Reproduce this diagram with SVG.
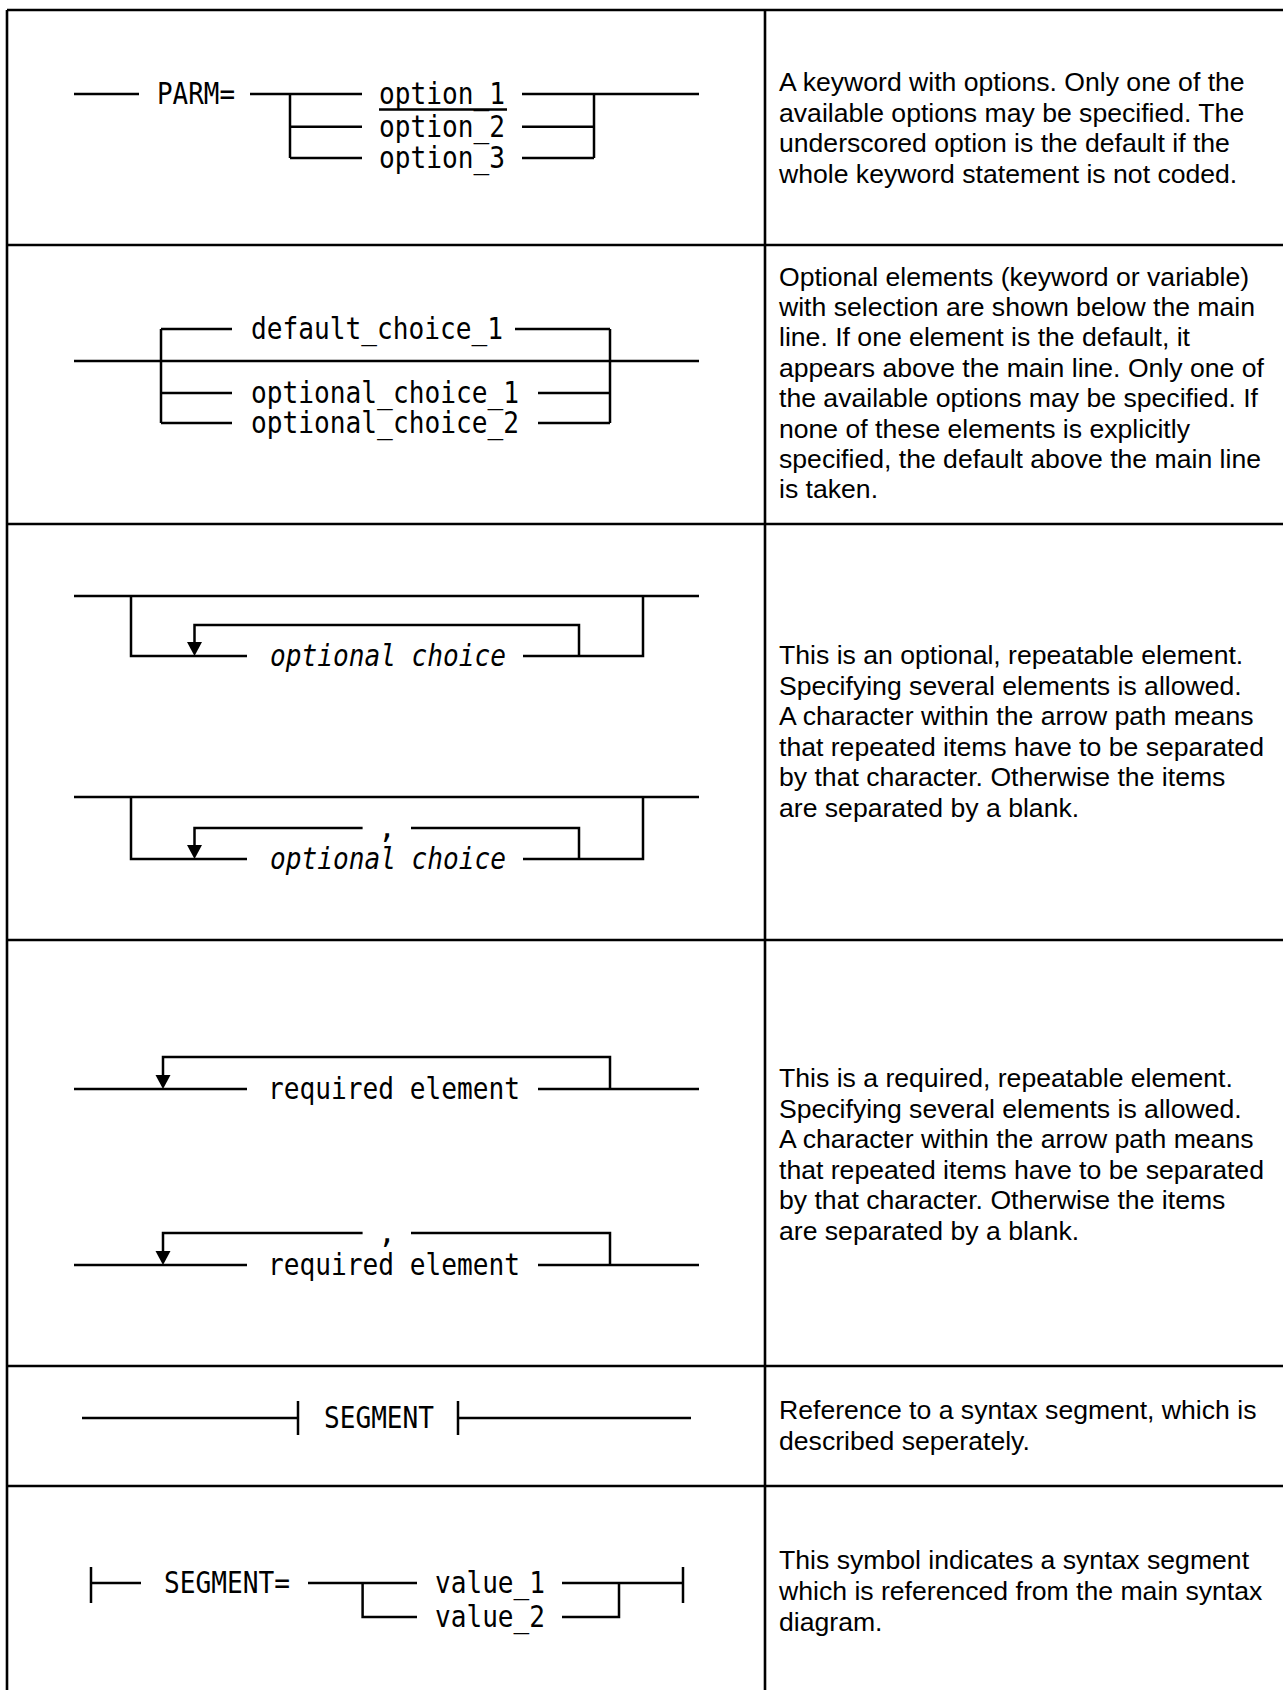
<svg xmlns="http://www.w3.org/2000/svg" width="1283" height="1690" viewBox="0 0 1283 1690">
<style>
.tb{stroke:#000;stroke-width:2.6;fill:none}
.ln{stroke:#000;stroke-width:2.5;fill:none}
.mono{font-family:"DejaVu Sans Mono","Liberation Mono",monospace;font-size:30px;fill:#000}
.it{font-style:italic}
.desc{font-family:"Liberation Sans",Arial,sans-serif;font-size:26.6px;fill:#000}
.ah{fill:#000;stroke:none}
</style>
<rect width="1283" height="1690" fill="#fff"/>
<g id="table">
<path class="tb" d="M7,10 H1283 M7,10 V1690 M765,10 V1690 M7,245 H1283 M7,524 H1283 M7,940 H1283 M7,1366 H1283 M7,1486 H1283"/>
</g>
<g id="connectors">
<path class="ln" d="M74,94 H139 M250,94 H362 M290,94 V158 M290,126.7 H362 M290,158 H362 M522,94 H594 M522,126.7 H594 M522,158 H594 M594,94 V158 M594,94 H699 M379,109.5 H507"/>
<path class="ln" d="M74,361 H699 M161,329 V423 M161,329 H232 M515,329 H610 M610,329 V423 M161,393 H232 M538,393 H610 M161,423 H232 M538,423 H610"/>
<path class="ln" d="M74,596 H699 M131,596 V656 H247 M523,656 H643 V596 M579,656 V625 H194.5 V643"/>
<polygon class="ah" points="187,642 202,642 194.5,656"/>
<path class="ln" d="M74,797 H699 M131,797 V859 H247 M523,859 H643 V797 M579,859 V828 H411 M362.6,828 H194.5 V846"/>
<polygon class="ah" points="187,845 202,845 194.5,859"/>
<path class="ln" d="M74,1089 H247 M538,1089 H699 M610,1089 V1057 H163 V1076"/>
<polygon class="ah" points="155.5,1075 170.5,1075 163,1089"/>
<path class="ln" d="M74,1265 H247 M538,1265 H699 M610,1265 V1233 H411 M362.6,1233 H163 V1252"/>
<polygon class="ah" points="155.5,1251 170.5,1251 163,1265"/>
<path class="ln" d="M82,1418 H298 M298,1401 V1435 M458,1401 V1435 M458,1418 H691"/>
<path class="ln" d="M91,1567 V1603 M91,1583 H141 M308,1583 H417 M362.6,1583 V1617 H417 M562,1583 H683 M562,1617 H619 V1583 M683,1567 V1603"/>
</g>
<g id="node-parm">
<text class="mono" x="157" y="104" textLength="78" lengthAdjust="spacingAndGlyphs">PARM=</text>
<text class="mono" x="379" y="104" textLength="126" lengthAdjust="spacingAndGlyphs">option_1</text>
<text class="mono" x="379" y="136.5" textLength="126" lengthAdjust="spacingAndGlyphs">option_2</text>
<text class="mono" x="379" y="168" textLength="126" lengthAdjust="spacingAndGlyphs">option_3</text>
</g>
<g id="node-choice">
<text class="mono" x="251" y="339" textLength="252" lengthAdjust="spacingAndGlyphs">default_choice_1</text>
<text class="mono" x="251" y="403" textLength="268" lengthAdjust="spacingAndGlyphs">optional_choice_1</text>
<text class="mono" x="251" y="433" textLength="268" lengthAdjust="spacingAndGlyphs">optional_choice_2</text>
</g>
<g id="node-optional-repeat">
<text class="mono it" x="270" y="666" textLength="236" lengthAdjust="spacingAndGlyphs">optional choice</text>
<text class="mono" x="378" y="838">,</text>
<text class="mono it" x="270" y="869" textLength="236" lengthAdjust="spacingAndGlyphs">optional choice</text>
</g>
<g id="node-required-repeat">
<text class="mono" x="268" y="1099" textLength="252" lengthAdjust="spacingAndGlyphs">required element</text>
<text class="mono" x="378" y="1243">,</text>
<text class="mono" x="268" y="1275" textLength="252" lengthAdjust="spacingAndGlyphs">required element</text>
</g>
<g id="node-segment-ref">
<text class="mono" x="324" y="1428" textLength="110" lengthAdjust="spacingAndGlyphs">SEGMENT</text>
</g>
<g id="node-segment-def">
<text class="mono" x="164" y="1593" textLength="126" lengthAdjust="spacingAndGlyphs">SEGMENT=</text>
<text class="mono" x="435" y="1593" textLength="110" lengthAdjust="spacingAndGlyphs">value_1</text>
<text class="mono" x="435" y="1627" textLength="110" lengthAdjust="spacingAndGlyphs">value_2</text>
</g>
<g id="desc-1" class="desc">
<text x="779" y="91">A keyword with options. Only one of the</text>
<text x="779" y="121.5">available options may be specified. The</text>
<text x="779" y="152">underscored option is the default if the</text>
<text x="779" y="182.5">whole keyword statement is not coded.</text>
</g>
<g id="desc-2" class="desc">
<text x="779" y="285.5">Optional elements (keyword or variable)</text>
<text x="779" y="315.9">with selection are shown below the main</text>
<text x="779" y="346.3">line. If one element is the default, it</text>
<text x="779" y="376.7">appears above the main line. Only one of</text>
<text x="779" y="407.1">the available options may be specified. If</text>
<text x="779" y="437.5">none of these elements is explicitly</text>
<text x="779" y="467.9">specified, the default above the main line</text>
<text x="779" y="498.3">is taken.</text>
</g>
<g id="desc-3" class="desc">
<text x="779" y="664">This is an optional, repeatable element.</text>
<text x="779" y="694.6">Specifying several elements is allowed.</text>
<text x="779" y="725.2">A character within the arrow path means</text>
<text x="779" y="755.8">that repeated items have to be separated</text>
<text x="779" y="786.4">by that character. Otherwise the items</text>
<text x="779" y="817">are separated by a blank.</text>
</g>
<g id="desc-4" class="desc">
<text x="779" y="1087">This is a required, repeatable element.</text>
<text x="779" y="1117.6">Specifying several elements is allowed.</text>
<text x="779" y="1148.2">A character within the arrow path means</text>
<text x="779" y="1178.8">that repeated items have to be separated</text>
<text x="779" y="1209.4">by that character. Otherwise the items</text>
<text x="779" y="1240">are separated by a blank.</text>
</g>
<g id="desc-5" class="desc">
<text x="779" y="1419">Reference to a syntax segment, which is</text>
<text x="779" y="1450">described seperately.</text>
</g>
<g id="desc-6" class="desc">
<text x="779" y="1569">This symbol indicates a syntax segment</text>
<text x="779" y="1600">which is referenced from the main syntax</text>
<text x="779" y="1631">diagram.</text>
</g>
</svg>
